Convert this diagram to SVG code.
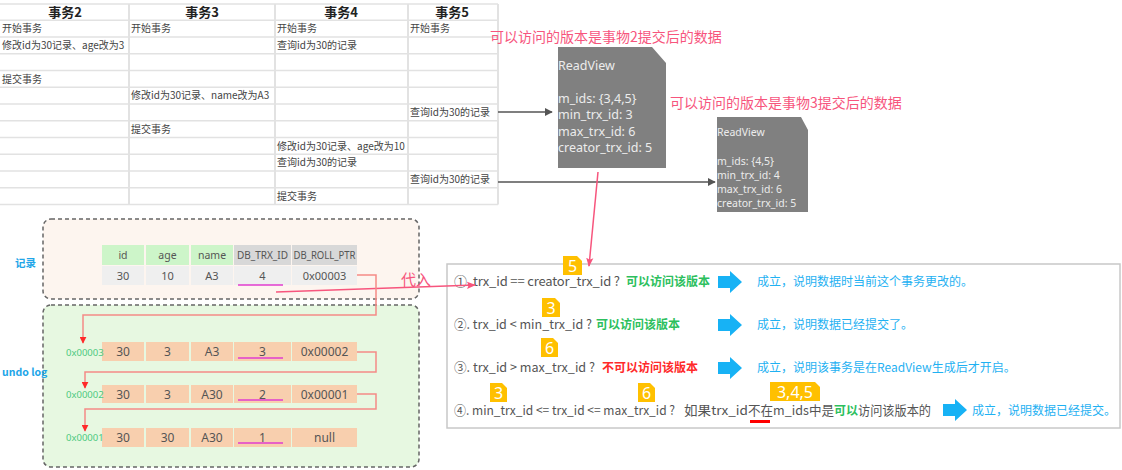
<svg xmlns="http://www.w3.org/2000/svg" width="1122" height="470" viewBox="0 0 1122 470">
<defs>
<style>
.cn{font-family:'Noto Sans CJK SC','Noto Sans',sans-serif}
.tb{font-size:10px;fill:#444}
.th{font-size:13px;font-weight:bold;fill:#222;text-anchor:middle}
.grid{stroke:#e2e2e2;stroke-width:1.5}
.vgrid{stroke:#e2e2e2;stroke-width:2}
.rv{font-family:'Noto Sans','Open Sans',sans-serif;fill:#ececec}
.rvshape{fill:#808080}
.pink{fill:#f7557d;font-size:14px}
.dash{stroke:#666;stroke-width:1.5;stroke-dasharray:4 3}
.cell{font-family:'Noto Sans','Open Sans',sans-serif;fill:#555;text-anchor:middle}
.ul{stroke:#e03ccf;stroke-width:1.5}
.conn{fill:none;stroke:#f58a86;stroke-width:1.5}
.addr{font-family:'Noto Sans',sans-serif;font-size:9.5px;fill:#4cc97f}
.lbl{font-size:10.5px;font-weight:bold;fill:#21a5e8}
.pt{font-size:13px;fill:#555}
.ok{font-size:12px;font-weight:bold;fill:#2dbf5e}
.no{font-size:12px;font-weight:bold;fill:#ff2a2a}
.bl{font-size:12px;fill:#1fb1f2}
.badge{fill:#ffc000}
.bt{font-family:'Noto Sans',sans-serif;font-size:16px;fill:#fff;text-anchor:middle}
.barrow{fill:#17b2f5}
</style>
<marker id="ah" viewBox="0 0 10 10" refX="9" refY="5" markerWidth="8" markerHeight="8" orient="auto-start-reverse" markerUnits="userSpaceOnUse"><path d="M0,0 L10,5 L0,10 Z" fill="#555"/></marker>
<marker id="ap" viewBox="0 0 10 10" refX="9" refY="5" markerWidth="9" markerHeight="9" orient="auto" markerUnits="userSpaceOnUse"><path d="M0,1 L10,5 L0,9 L2,5 Z" fill="#f7557d"/></marker>
<marker id="ar" viewBox="0 0 10 10" refX="9" refY="5" markerWidth="7" markerHeight="7" orient="auto" markerUnits="userSpaceOnUse"><path d="M0,0 L10,5 L0,10 Z" fill="#ff2a2a"/></marker>
<path id="blk" d="M0,-6 H12 V-11 L24,0 L12,11 V6 H0 Z"/>
</defs>
<rect width="1122" height="470" fill="#fff"/>

<!-- Transaction table -->
<g id="table" class="cn">
  <line class="grid" x1="0" y1="4" x2="498" y2="4"/>
  <line class="grid" x1="0" y1="20.3" x2="498" y2="20.3"/>
  <line class="grid" x1="0" y1="37" x2="498" y2="37"/>
  <line class="grid" x1="0" y1="53.8" x2="498" y2="53.8"/>
  <line class="grid" x1="0" y1="70.5" x2="498" y2="70.5"/>
  <line class="grid" x1="0" y1="87.3" x2="498" y2="87.3"/>
  <line class="grid" x1="0" y1="104" x2="498" y2="104"/>
  <line class="grid" x1="0" y1="120.8" x2="498" y2="120.8"/>
  <line class="grid" x1="0" y1="137.5" x2="498" y2="137.5"/>
  <line class="grid" x1="0" y1="154.3" x2="498" y2="154.3"/>
  <line class="grid" x1="0" y1="171" x2="498" y2="171"/>
  <line class="grid" x1="0" y1="187.8" x2="498" y2="187.8"/>
  <line class="grid" x1="0" y1="204.5" x2="498" y2="204.5"/>
  <line class="vgrid" x1="129" y1="4" x2="129" y2="204.5"/>
  <line class="vgrid" x1="275" y1="4" x2="275" y2="204.5"/>
  <line class="vgrid" x1="408" y1="4" x2="408" y2="204.5"/>
  <line class="vgrid" x1="498" y1="4" x2="498" y2="204.5"/>
  <text class="th" x="65" y="17">事务2</text>
  <text class="th" x="202" y="17">事务3</text>
  <text class="th" x="341" y="17">事务4</text>
  <text class="th" x="452" y="17">事务5</text>
  <text class="tb" x="2" y="32.3">开始事务</text>
  <text class="tb" x="131" y="32.3">开始事务</text>
  <text class="tb" x="277" y="32.3">开始事务</text>
  <text class="tb" x="410" y="32.3">开始事务</text>
  <text class="tb" x="2" y="49">修改id为30记录、age改为3</text>
  <text class="tb" x="277" y="49">查询id为30的记录</text>
  <text class="tb" x="2" y="82.5">提交事务</text>
  <text class="tb" x="131" y="99.3">修改id为30记录、name改为A3</text>
  <text class="tb" x="410" y="116">查询id为30的记录</text>
  <text class="tb" x="131" y="132.8">提交事务</text>
  <text class="tb" x="277" y="149.5">修改id为30记录、age改为10</text>
  <text class="tb" x="277" y="166.3">查询id为30的记录</text>
  <text class="tb" x="410" y="183">查询id为30的记录</text>
  <text class="tb" x="277" y="199.8">提交事务</text>
</g>

<!-- ReadView 1 -->
<g id="readview1">
  <text class="cn pink" x="490" y="42">可以访问的版本是事物2提交后的数据</text>
  <polygon class="rvshape" points="558,47 652,47 666,63 666,168 558,168"/>
  <text class="rv" font-size="12.5" x="558" y="70">ReadView</text>
  <text class="rv" font-size="12.5" x="558" y="103">m_ids: {3,4,5}</text>
  <text class="rv" font-size="12.5" x="558" y="119">min_trx_id: 3</text>
  <text class="rv" font-size="12.5" x="558" y="136">max_trx_id: 6</text>
  <text class="rv" font-size="12.5" x="558" y="152">creator_trx_id: 5</text>
</g>

<!-- ReadView 2 -->
<g id="readview2">
  <text class="cn pink" x="670" y="108">可以访问的版本是事物3提交后的数据</text>
  <polygon class="rvshape" points="717,117 801,117 808,130 808,212 717,212"/>
  <text class="rv" font-size="10.5" x="717" y="135.5">ReadView</text>
  <text class="rv" font-size="10.5" x="717" y="164.5">m_ids: {4,5}</text>
  <text class="rv" font-size="10.5" x="717" y="178.5">min_trx_id: 4</text>
  <text class="rv" font-size="10.5" x="717" y="192.5">max_trx_id: 6</text>
  <text class="rv" font-size="10.5" x="717" y="206.5">creator_trx_id: 5</text>
</g>

<!-- Record box -->
<g id="record">
  <rect x="43" y="219" width="376" height="80" rx="8" fill="#fdf5ef" class="dash"/>
  <text class="cn lbl" x="15" y="267">记录</text>
  <rect x="102" y="245" width="42" height="20" fill="#cdf5c9"/>
  <rect x="146" y="245" width="43" height="20" fill="#cdf5c9"/>
  <rect x="191" y="245" width="42" height="20" fill="#cdf5c9"/>
  <rect x="234" y="245" width="57" height="20" fill="#d8d8d8"/>
  <rect x="292" y="245" width="65" height="20" fill="#d8d8d8"/>
  <rect x="102" y="266" width="42" height="19" fill="#efefef"/>
  <rect x="146" y="266" width="43" height="19" fill="#efefef"/>
  <rect x="191" y="266" width="42" height="19" fill="#efefef"/>
  <rect x="234" y="266" width="57" height="19" fill="#efefef"/>
  <rect x="292" y="266" width="65" height="19" fill="#efefef"/>
  <g class="cell" font-size="10.5">
    <text x="123" y="259">id</text>
    <text x="167.5" y="259">age</text>
    <text x="212" y="259">name</text>
    <text x="262.5" y="259" font-size="10" textLength="51" lengthAdjust="spacingAndGlyphs">DB_TRX_ID</text>
    <text x="324.5" y="259" font-size="10" textLength="62" lengthAdjust="spacingAndGlyphs">DB_ROLL_PTR</text>
    <text x="123" y="279.5" font-size="11">30</text>
    <text x="167.5" y="279.5" font-size="11">10</text>
    <text x="212" y="279.5" font-size="11">A3</text>
    <text x="262.5" y="279.5" font-size="11">4</text>
    <text x="324.5" y="279.5" font-size="11">0x00003</text>
  </g>
  <line class="ul" x1="238" y1="285" x2="283" y2="285"/>
</g>

<!-- Undo log box -->
<g id="undolog">
  <rect x="43" y="305" width="376" height="162" rx="8" fill="#e7f8e1" class="dash"/>
  <text class="cn lbl" x="2" y="376" font-size="10.5">undo log</text>
  <g fill="#f8cfae">
    <rect x="102" y="342" width="42" height="19"/>
    <rect x="146" y="342" width="43" height="19"/>
    <rect x="191" y="342" width="42" height="19"/>
    <rect x="234" y="342" width="57" height="19"/>
    <rect x="292" y="342" width="65" height="19"/>
    <rect x="102" y="385" width="42" height="18"/>
    <rect x="146" y="385" width="43" height="18"/>
    <rect x="191" y="385" width="42" height="18"/>
    <rect x="234" y="385" width="57" height="18"/>
    <rect x="292" y="385" width="65" height="18"/>
    <rect x="102" y="428" width="42" height="19"/>
    <rect x="146" y="428" width="43" height="19"/>
    <rect x="191" y="428" width="42" height="19"/>
    <rect x="234" y="428" width="57" height="19"/>
    <rect x="292" y="428" width="65" height="19"/>
  </g>
  <g class="cell" font-size="12">
    <text x="123" y="356">30</text>
    <text x="167.5" y="356">3</text>
    <text x="212" y="356">A3</text>
    <text x="262.5" y="356">3</text>
    <text x="324.5" y="356">0x00002</text>
    <text x="123" y="398.5">30</text>
    <text x="167.5" y="398.5">3</text>
    <text x="212" y="398.5">A30</text>
    <text x="262.5" y="398.5">2</text>
    <text x="324.5" y="398.5">0x00001</text>
    <text x="123" y="442">30</text>
    <text x="167.5" y="442">30</text>
    <text x="212" y="442">A30</text>
    <text x="262.5" y="442">1</text>
    <text x="324.5" y="442">null</text>
  </g>
  <line class="ul" x1="238" y1="358" x2="283" y2="358"/>
  <line class="ul" x1="238" y1="400" x2="283" y2="400"/>
  <line class="ul" x1="238" y1="443" x2="283" y2="443"/>
  <text class="addr" x="66" y="355.5">0x00003</text>
  <text class="addr" x="66" y="397.5">0x00002</text>
  <text class="addr" x="66" y="440.5">0x00001</text>
</g>

<!-- Rules panel -->
<g id="rules" class="cn">
  <rect x="447" y="264" width="673" height="164" fill="#fff" stroke="#c8c8c8" stroke-width="1.5"/>
  <path class="badge" d="M563,256 H577 L582,261 V275 H563 Z"/>
  <text class="bt" x="572.5" y="272">5</text>
  <path class="badge" d="M542,298 H555 L560,303 V317 H542 Z"/>
  <text class="bt" x="551" y="314">3</text>
  <path class="badge" d="M541,338 H553 L558,343 V357 H541 Z"/>
  <text class="bt" x="549.5" y="354">6</text>
  <path class="badge" d="M490,383 H502 L507,388 V402 H490 Z"/>
  <text class="bt" x="498.5" y="399">3</text>
  <path class="badge" d="M638,383 H650 L655,388 V402 H638 Z"/>
  <text class="bt" x="646.5" y="399">6</text>
  <path class="badge" d="M770,382 H815 L820,387 V401 H770 Z"/>
  <text class="bt" x="795" y="398">3,4,5</text>

  <text class="pt" x="454" y="286" textLength="166" lengthAdjust="spacing">①. trx_id  == creator_trx_id ?</text>
  <text class="ok" x="626" y="286">可以访问该版本</text>
  <use href="#blk" class="barrow" x="718" y="282"/>
  <text class="bl" x="757" y="286">成立，说明数据时当前这个事务更改的。</text>

  <text class="pt" x="454" y="329" textLength="138" lengthAdjust="spacingAndGlyphs">②. trx_id &lt; min_trx_id ?</text>
  <text class="ok" x="596" y="329">可以访问该版本</text>
  <use href="#blk" class="barrow" x="718" y="325"/>
  <text class="bl" x="757" y="329">成立，说明数据已经提交了。</text>

  <text class="pt" x="454" y="372" textLength="141" lengthAdjust="spacingAndGlyphs">③. trx_id &gt; max_trx_id ?</text>
  <text class="no" x="602" y="372">不可以访问该版本</text>
  <use href="#blk" class="barrow" x="718" y="368"/>
  <text class="bl" x="757" y="372">成立，说明该事务是在ReadView生成后才开启。</text>

  <text class="pt" x="454" y="415" textLength="221" lengthAdjust="spacingAndGlyphs">④. min_trx_id &lt;= trx_id &lt;= max_trx_id ?</text>
  <text class="pt" x="684" y="415" textLength="64" lengthAdjust="spacingAndGlyphs">如果trx_id</text>
  <text class="pt" x="748" y="415" textLength="86" lengthAdjust="spacingAndGlyphs">不在m_ids中是</text>
  <text class="ok" x="834" y="415" font-size="12.5">可以</text>
  <text class="pt" x="858" y="415" textLength="73" lengthAdjust="spacingAndGlyphs">访问该版本的</text>
  <line x1="750" y1="421.5" x2="770" y2="421.5" stroke="#ff0000" stroke-width="3"/>
  <use href="#blk" class="barrow" x="943" y="410"/>
  <text class="bl" x="972" y="415">成立，说明数据已经提交。</text>
</g>

<!-- Connectors -->
<g id="connectors">
  <line x1="498" y1="112" x2="552" y2="112" stroke="#555" stroke-width="1.5" marker-end="url(#ah)"/>
  <line x1="498" y1="182" x2="715" y2="182" stroke="#555" stroke-width="1.5" marker-end="url(#ah)"/>
  <line x1="598" y1="172" x2="589" y2="266" stroke="#f7557d" stroke-width="1.5" marker-end="url(#ap)"/>
  <line x1="276" y1="292" x2="475" y2="285" stroke="#f7557d" stroke-width="1.5" marker-end="url(#ap)"/>
  <text class="cn" x="401" y="285" font-size="15" fill="#f7557d">代入</text>
  <polyline class="conn" points="357,275 376,275 376,315 83,315 83,343" marker-end="url(#ar)"/>
  <polyline class="conn" points="357,352 376,352 376,372 85,372 85,388" marker-end="url(#ar)"/>
  <polyline class="conn" points="357,394 376,394 376,409 85,409 85,431" marker-end="url(#ar)"/>
</g>
</svg>
